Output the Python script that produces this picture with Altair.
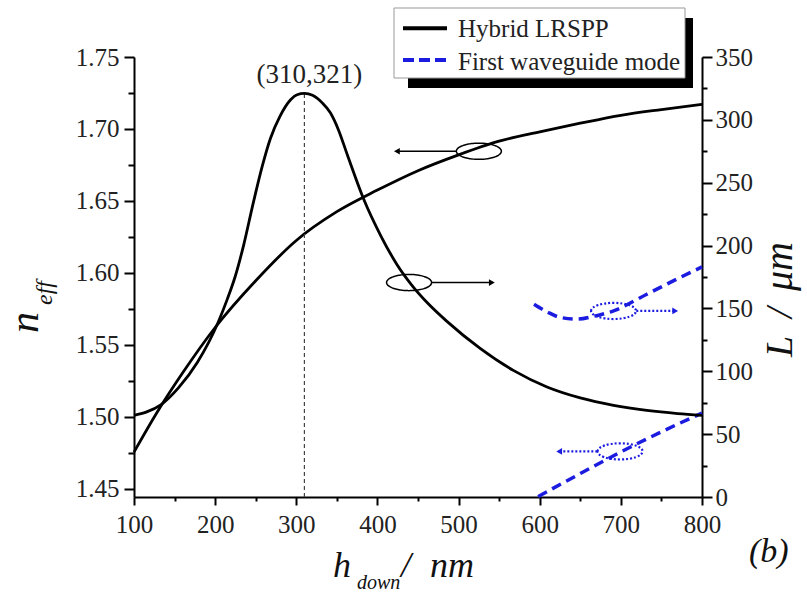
import altair as alt
import pandas as pd

# ---------------- data ----------------
# Hybrid LRSPP, effective index (left axis)
h_lr_n = [100, 130, 160, 200, 250, 300, 350, 400, 450, 500, 550, 600, 650, 700, 750, 800]
n_lr = [1.4754, 1.5045, 1.5305, 1.5620, 1.5945, 1.6225, 1.6425, 1.6575, 1.6710,
        1.6820, 1.6915, 1.6980, 1.7040, 1.7095, 1.7135, 1.7171]

# Hybrid LRSPP, propagation length (right axis)
h_lr_L = [100, 115, 133, 155, 178, 204, 215, 225, 235, 247, 258, 268, 280, 293, 301, 310,
          320, 332, 342, 352, 363, 383, 404, 424, 443, 463, 486, 527, 568, 609, 650, 691,
          732, 770, 800]
L_lr = [65, 67.5, 73.3, 87, 107, 139.4, 157.4, 176, 200, 234, 263, 285, 303, 316, 320, 321,
        319.5, 313.5, 305.6, 292, 272, 237, 208, 185, 168, 153.5, 139.5, 118, 100.5, 87.5, 78.8,
        72.9, 68.9, 66.4, 65]

# First waveguide mode
h_wg_n = [598, 650, 700, 750, 800]
n_wg = [1.4445, 1.4605, 1.4755, 1.4895, 1.5025]
h_wg_L = [593, 610, 625, 646, 666, 691, 732, 773, 800]
L_wg = [153.4, 147.0, 142.9, 141.5, 143.7, 148.1, 161.3, 174.6, 183.0]

# peak marker
peak_h = [310]
peak_L = [321]
peak_text = ["(310,321)"]

# annotation ellipses (centre) and arrows (start -> tip)
ell_black_n = {"h": [525], "n": [1.6845], "h0": [497], "h1": [424]}
ell_black_L = {"h": [439], "L": [170.6], "h0": [467], "h1": [541]}
ell_blue_L = {"h": [691], "L": [148.0], "h0": [719], "h1": [767]}
ell_blue_n = {"h": [699], "n": [1.4759], "h0": [671], "h1": [624]}

legend_labels = ["Hybrid LRSPP", "First waveguide mode"]

# ---------------- styles ----------------
FONT = "Liberation Serif"
BLACK = "#000000"
BLUE = "#1c1ce0"
ELLIPSE = "M-1,0A1,0.36,0,1,1,1,0A1,0.36,0,1,1,-1,0Z"

x_vals = list(range(100, 801, 50))
n_vals = [1.45, 1.475, 1.5, 1.525, 1.55, 1.575, 1.6, 1.625, 1.65, 1.675, 1.7, 1.725, 1.75]
L_vals = list(range(0, 351, 25))

common_axis = dict(domainColor="black", domainWidth=2, tickColor="black", tickWidth=2,
                   labelFont=FONT, labelFontSize=25, labelColor="#222222", grid=False,
                   title=None, labelFlush=False, labelOverlap=False)

x_axis = alt.Axis(values=x_vals, orient="bottom",
                  labelExpr="datum.value % 100 === 0 ? datum.label : ''",
                  tickSize={"condition": {"test": "datum.value % 100 === 0", "value": 8}, "value": 4},
                  labelPadding=7, **common_axis)
n_axis = alt.Axis(values=n_vals, orient="left", format=".2f",
                  labelExpr="round(datum.value*1000) % 50 === 0 ? datum.label : ''",
                  tickSize={"condition": {"test": "round(datum.value*1000) % 50 === 0", "value": 10}, "value": 6},
                  labelPadding=5, **common_axis)
L_axis = alt.Axis(values=L_vals, orient="right",
                  labelExpr="datum.value % 50 === 0 ? datum.label : ''",
                  tickSize={"condition": {"test": "datum.value % 50 === 0", "value": 10}, "value": 5},
                  labelPadding=3, **common_axis)

x_scale = alt.Scale(domain=[100, 800], nice=False, zero=False)
n_scale = alt.Scale(domain=[1.4442, 1.75], nice=False, zero=False)
L_scale = alt.Scale(domain=[0, 350], nice=False, zero=False)


def X(field="h"):
    return alt.X(f"{field}:Q", scale=x_scale, axis=x_axis)


def Yn():
    return alt.Y("n:Q", scale=n_scale, axis=n_axis)


def YL():
    return alt.Y("L:Q", scale=L_scale, axis=L_axis)


# ---------------- n_eff group ----------------
df_lr_n = pd.DataFrame({"h": h_lr_n, "n": n_lr})
df_wg_n = pd.DataFrame({"h": h_wg_n, "n": n_wg})

n_black = alt.Chart(df_lr_n).mark_line(color=BLACK, strokeWidth=2.8, interpolate="monotone").encode(x=X(), y=Yn())
n_blue = alt.Chart(df_wg_n).mark_line(color=BLUE, strokeWidth=3.5, strokeDash=[10, 6],
                                      interpolate="monotone").encode(x=X(), y=Yn())


def annotation(d, yfield, color, dotted):
    df = pd.DataFrame(d)
    yenc = Yn() if yfield == "n" else YL()
    dash = [2, 2] if dotted else [1, 0]
    sw = 2.2 if dotted else 1.5
    ell = alt.Chart(df).mark_point(shape=ELLIPSE, size=2025, filled=False, color=color,
                                   strokeWidth=sw, strokeDash=dash, opacity=1).encode(x=X(), y=yenc)
    arr = alt.Chart(df).mark_rule(color=color, strokeWidth=sw, strokeDash=dash).encode(
        x=X("h0"), x2="h1:Q", y=yenc)
    head_shape = "triangle-left" if d["h1"][0] < d["h0"][0] else "triangle-right"
    head = alt.Chart(df).mark_point(shape=head_shape, size=45, filled=True, color=color,
                                    opacity=1).encode(x=X("h1"), y=yenc)
    return [ell, arr, head]


n_group = alt.layer(n_black, n_blue,
                    *annotation(ell_black_n, "n", BLACK, False),
                    *annotation(ell_blue_n, "n", BLUE, True))

# ---------------- L group ----------------
df_lr_L = pd.DataFrame({"h": h_lr_L, "L": L_lr})
df_wg_L = pd.DataFrame({"h": h_wg_L, "L": L_wg})
df_peak = pd.DataFrame({"h": peak_h, "L": peak_L, "L0": [0], "label": peak_text})

peak_rule = alt.Chart(df_peak).mark_rule(color="#444444", strokeWidth=1.2, strokeDash=[4, 3]).encode(
    x=X(), y=alt.Y("L0:Q", scale=L_scale, axis=L_axis), y2="L:Q")
L_black = alt.Chart(df_lr_L).mark_line(color=BLACK, strokeWidth=2.8, interpolate="monotone").encode(x=X(), y=YL())
L_blue = alt.Chart(df_wg_L).mark_line(color=BLUE, strokeWidth=3.5, strokeDash=[10, 6],
                                      interpolate="monotone").encode(x=X(), y=YL())
peak_lbl = alt.Chart(df_peak).mark_text(font=FONT, fontSize=27, color="#222222", dy=-10, dx=5,
                                        baseline="alphabetic", align="center").encode(
    x=X(), y=YL(), text="label:N")

L_group = alt.layer(peak_rule, L_black, L_blue,
                    *annotation(ell_black_L, "L", BLACK, False),
                    *annotation(ell_blue_L, "L", BLUE, True),
                    peak_lbl)

# ---------------- decorations: legend, axis titles, panel label ----------------
dummy = pd.DataFrame({"k": [0]})


def txt(t, x, y, size, angle=0, italic=True, color="#111111"):
    kw = dict(text=t, font=FONT, fontSize=size, align="left", baseline="alphabetic", color=color)
    if italic:
        kw["fontStyle"] = "italic"
    if angle:
        kw["angle"] = angle
    return alt.Chart(dummy).mark_text(**kw).encode(x=alt.value(x), y=alt.value(y))


shadow = alt.Chart(dummy).mark_rect(color="black").encode(
    x=alt.value(274), x2=alt.value(559), y=alt.value(-39), y2=alt.value(31))
box = alt.Chart(dummy).mark_rect(fill="white", stroke="#999999", strokeWidth=1).encode(
    x=alt.value(260), x2=alt.value(551), y=alt.value(-49), y2=alt.value(21))
leg_line1 = alt.Chart(dummy).mark_rule(color=BLACK, strokeWidth=4).encode(
    x=alt.value(269), x2=alt.value(313), y=alt.value(-28.7))
leg_line2 = alt.Chart(dummy).mark_rule(color=BLUE, strokeWidth=4, strokeDash=[11, 5]).encode(
    x=alt.value(269), x2=alt.value(316), y=alt.value(3))
leg_t1 = txt(legend_labels[0], 324, -20, 25, italic=False, color="#222222")
leg_t2 = txt(legend_labels[1], 324, 13, 25, italic=False, color="#222222")

deco = alt.layer(
    shadow, box, leg_line1, leg_line2, leg_t1, leg_t2,
    # x title: h_down / nm
    txt("h", 199, 520, 36),
    txt("down", 223, 532, 20),
    txt("/", 267, 520, 36),
    txt("nm", 296, 520, 36),
    # left title: n_eff
    txt("n", -96, 276, 42, angle=270),
    txt("eff", -82, 248, 24, angle=270),
    # right title: L / μm
    txt("L", 658, 300, 38, angle=270),
    txt("/", 658, 261, 38, angle=270),
    txt("μm", 658, 234, 40, angle=270),
    # panel label
    txt("(b)", 615, 505, 34),
)

chart = alt.layer(n_group, L_group, deco).resolve_scale(y="independent").properties(
    width=568, height=440,
    autosize=alt.AutoSizeParams(type="none"),
    padding={"left": 134, "top": 57, "right": 105, "bottom": 96},
    background="white",
).configure_view(stroke=None)

chart.save("out.html", embed_options={"renderer": "svg", "actions": False})
